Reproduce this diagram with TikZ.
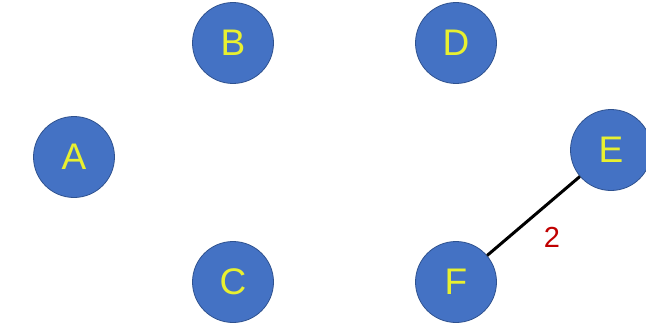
\documentclass[tikz,border=0pt]{standalone}
\usepackage{fontspec}
\setmainfont{Liberation Sans}
\usepackage{tikz}
\definecolor{vblue}{RGB}{68,114,196}
\definecolor{vrim}{RGB}{47,82,143}
\definecolor{vyel}{RGB}{232,240,48}
\definecolor{wred}{RGB}{192,0,0}
\tikzset{vtx/.style={circle,draw=vrim,fill=vblue,minimum size=81pt,inner sep=0pt,line width=0.8pt,
           text=vyel,font=\fontsize{37}{40}\selectfont},
         e/.style={line width=3pt,black},
  wlab/.style={wred,font=\fontsize{29}{32}\selectfont}
         }

\begin{document}
\begin{tikzpicture}[x=1pt,y=1pt]
        \useasboundingbox (0,0) rectangle (646,325);
        \node[vtx] (A) at (74,168) {A};
        \node[vtx] (B) at (233,282) {B};
        \node[vtx] (C) at (233,43) {C};
        \node[vtx] (D) at (456,282) {D};
        \node[vtx] (E) at (611,175) {E};
        \node[vtx] (F) at (456,43) {F};
        \draw[e] (F) -- (E);
        \node[wlab] (w) at (552,88) {2};
        \end{tikzpicture}
\end{document}
